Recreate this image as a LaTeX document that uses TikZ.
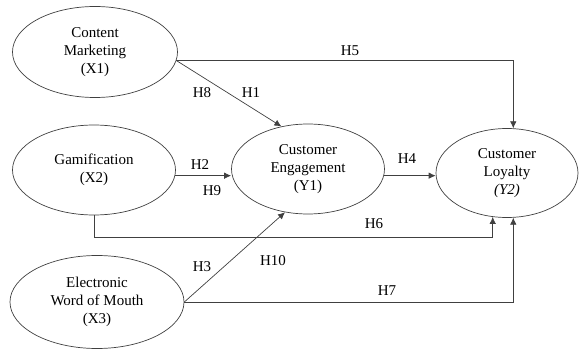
\documentclass[tikz,border=0pt]{standalone}
\usepackage{fontspec}
\setmainfont{Liberation Serif}
\usepackage{tikz}
\usetikzlibrary{shapes.geometric, arrows.meta, positioning, calc}
\definecolor{linegray}{rgb}{0.25, 0.25, 0.25}

\begin{document}
\begin{tikzpicture}[x=1pt, y=-1pt,
	every node/.style={font=\fontsize{15}{18}\selectfont, text=black},
	construct/.style={draw=linegray, ellipse, inner sep=0pt, align=center, line width=0.7pt},
	path/.style={draw=linegray, line width=0.7pt, -{Latex[length=7pt, width=6.5pt]}}]
	\useasboundingbox (0,0) rectangle (579,350);
	
	\node[construct, minimum width=165pt, minimum height=91pt] (x1) at (95,52) {Content\\Marketing\\(X1)};
	\node[construct, minimum width=163pt, minimum height=90pt] (x2) at (94,170) {Gamification\\(X2)};
	\node[construct, minimum width=174pt, minimum height=93pt] (x3) at (97,302) {Electronic\\Word of Mouth\\(X3)};
	\node[construct, minimum width=153pt, minimum height=90pt] (y1) at (308,169) {Customer\\Engagement\\(Y1)};
	\node[construct, minimum width=142pt, minimum height=89pt] (y2) at (507,173) {Customer\\Loyalty\\\textit{(Y2)}};
	
	\draw[path] (x1.-6) -| (y2.82);
	\draw[path] (x1.-6) -- (y1.122);
	\draw[path] (x2.-4) -- (x2.-4 -| y1.west);
	\draw[path] (y1.-5) -- (y1.-5 -| y2.west);
	\draw[path] (x2.south) -- ++(0,22) -| (y2.252);
	\draw[path] (x3.east) -- (y1.242);
	\draw[path] (x3.east) -| (y2.278);
	
	\node (h5) at (350,51) {H5};
	\node (h8) at (202,93) {H8};
	\node (h1) at (251,93) {H1};
	\node (h2) at (200,165) {H2};
	\node (h9) at (212,191) {H9};
	\node (h4) at (407,159) {H4};
	\node (h6) at (374,224) {H6};
	\node (h3) at (202,267) {H3};
	\node (h10) at (273,261) {H10};
	\node (h7) at (387,291) {H7};
\end{tikzpicture}
\end{document}
